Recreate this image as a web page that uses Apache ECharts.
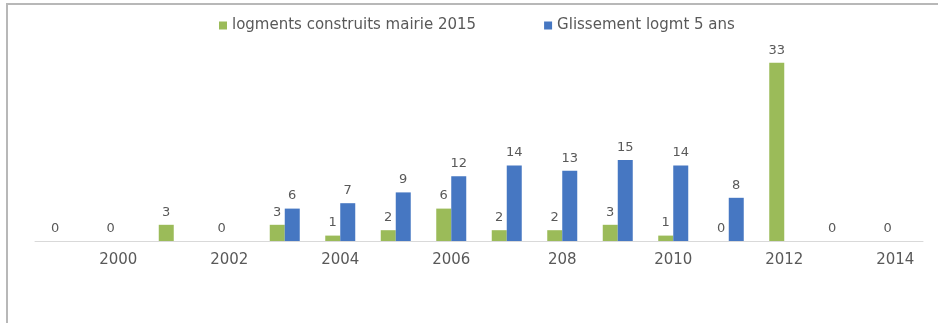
<!DOCTYPE html>
<html>
<head>
<meta charset="utf-8">
<script src="https://cdn.jsdelivr.net/npm/echarts@6/dist/echarts.min.js"></script>
<style>
  html, body { margin: 0; padding: 0; background: #ffffff; }
  #chart { width: 938px; height: 323px; }
</style>
</head>
<body>
<div id="chart"></div>
<script>
// Years on the category axis
var years = ['1999', '2000', '2001', '2002', '2003', '2004', '2005', '2006',
             '2007', '2008', '2009', '2010', '2011', '2012', '2013', '2014'];
// Labels printed under the axis (every other year)
var tickLabels = ['', '2000', '', '2002', '', '2004', '', '2006',
                  '', '208', '', '2010', '', '2012', '', '2014'];
// Housing built per year (town hall 2015)
var logementsConstruits = [0, 0, 3, 0, 3, 1, 2, 6, 2, 2, 3, 1, 0, 33, 0, 0];
// Five-year rolling housing figure
var glissement5Ans = ['-', '-', '-', '-', 6, 7, 9, 12, 14, 13, 15, 14, 8, '-', '-', '-'];

var chart = echarts.init(document.getElementById('chart'), null, { renderer: 'canvas' });

var labelStyle = {
  show: true,
  position: 'top',
  distance: 6,
  color: '#595959',
  fontFamily: 'DejaVu Sans',
  fontSize: 13
};

chart.setOption({
  animation: false,
  backgroundColor: '#ffffff',
  graphic: [
    { type: 'rect', shape: { x: 6, y: 3, width: 932, height: 2 }, style: { fill: '#b8b8b8' }, silent: true },
    { type: 'rect', shape: { x: 6, y: 3, width: 2, height: 320 }, style: { fill: '#b8b8b8' }, silent: true }
  ],
  legend: {
    top: 13,
    left: 214,
    itemWidth: 8,
    itemHeight: 8,
    itemGap: 68,
    icon: 'rect',
    textStyle: { color: '#595959', fontFamily: 'DejaVu Sans', fontSize: 15 },
    data: ['logments construits mairie 2015', 'Glissement logmt 5 ans']
  },
  grid: { left: 35, right: 15, top: 52, bottom: 82, containLabel: false },
  xAxis: {
    type: 'category',
    data: years,
    axisLine: { lineStyle: { color: '#d9d9d9', width: 1 } },
    axisTick: { show: false },
    axisLabel: {
      interval: 0,
      margin: 12,
      color: '#595959',
      fontFamily: 'DejaVu Sans',
      fontSize: 15,
      formatter: function (v, i) { return tickLabels[i]; }
    }
  },
  yAxis: {
    type: 'value',
    min: 0,
    max: 35,
    show: false,
    splitLine: { show: false }
  },
  series: [
    {
      name: 'logments construits mairie 2015',
      type: 'bar',
      data: logementsConstruits,
      barWidth: 15,
      barGap: '0%',
      itemStyle: { color: '#9bbb59' },
      label: labelStyle
    },
    {
      name: 'Glissement logmt 5 ans',
      type: 'bar',
      data: glissement5Ans,
      barWidth: 15,
      barGap: '0%',
      itemStyle: { color: '#4677c2' },
      label: labelStyle
    }
  ]
});
</script>
</body>
</html>
